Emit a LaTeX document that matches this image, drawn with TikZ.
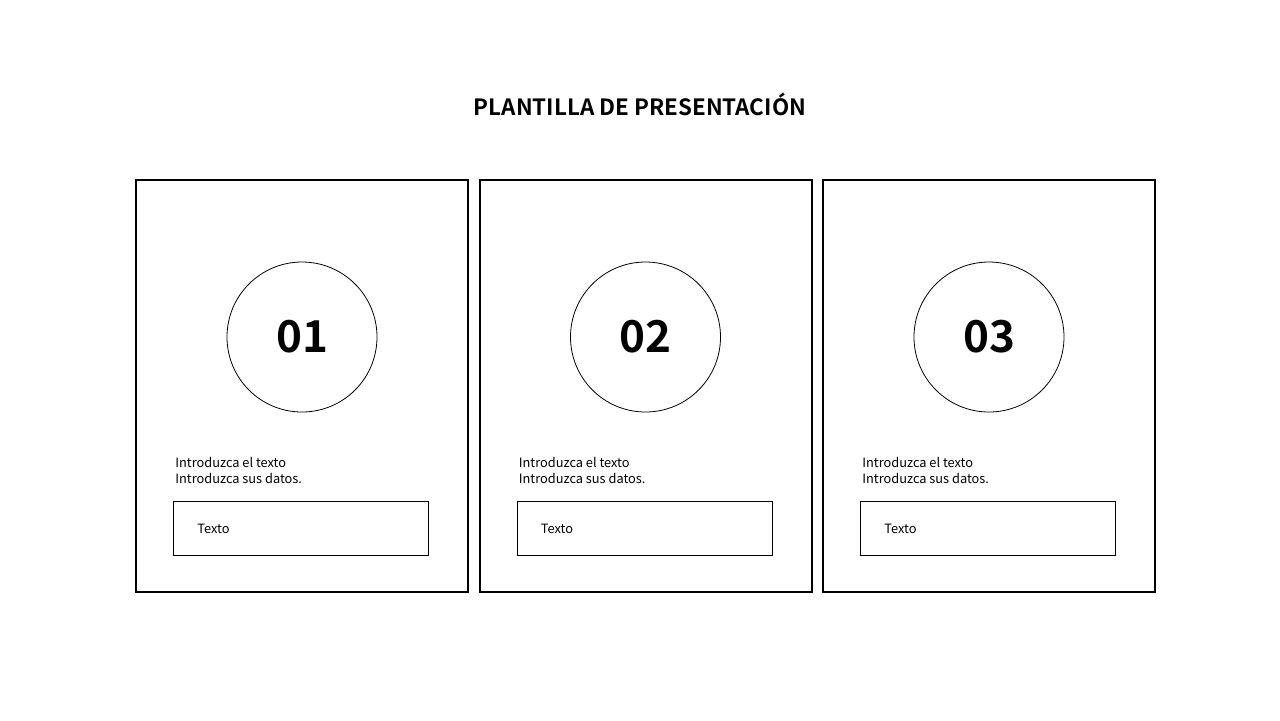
\documentclass[tikz,border=0pt]{standalone}
\usepackage{fontspec}
\setmainfont{Noto Sans CJK SC}
\newfontfamily\headfont{Noto Sans CJK SC Bold}
\usepackage{tikz}
\usetikzlibrary{
	positioning,    % placement of nodes
	calc
}

\tikzset{
	card/.style={draw, line width=1pt, minimum width=166pt, minimum height=206pt, inner sep=0pt},
	numcircle/.style={circle, draw, line width=0.4pt, minimum size=75pt, inner sep=0pt,
		font=\headfont\fontsize{22}{26}\selectfont},
	intro/.style={align=left, anchor=north west, inner sep=0pt,
		font=\fontsize{6.4}{8}\selectfont},
	textbox/.style={draw, line width=0.5pt, minimum width=127.5pt, minimum height=27pt,
		inner sep=0pt, anchor=north west},
	boxlabel/.style={font=\fontsize{6.4}{8}\selectfont, anchor=west, inner sep=0pt}
}

\begin{document}
\begin{tikzpicture}[x=0.5pt, y=-0.5pt]
		% --- Area ---
		\useasboundingbox (0,0) rectangle (1280,720);
		
		% --- Titolo ---
		\node[font=\headfont\fontsize{11.2}{14}\selectfont] (title) at (640,104) {PLANTILLA DE PRESENTACIÓN};
		
		% --- Schede ---
		\foreach \i/\cx/\cy in {1/302/386, 2/645.5/386, 3/989/386} {
			% Riquadro esterno
			\node[card] (card\i) at (\cx,\cy) {};
			% Cerchio con il numero
			\node[numcircle] (num\i) at (\cx,337) {0\i};
			% Testo introduttivo
			\node[intro] (intro\i) at ($(\cx,457)+(-127,0)$) {Introduzca el texto\\Introduzca sus datos.};
			% Riquadro del testo
			\node[textbox] (box\i) at ($(\cx,501)+(-129,0)$) {};
			\node[boxlabel] (label\i) at ($(box\i.west)+(12pt,0)$) {Texto};
		}
	\end{tikzpicture}
\end{document}
